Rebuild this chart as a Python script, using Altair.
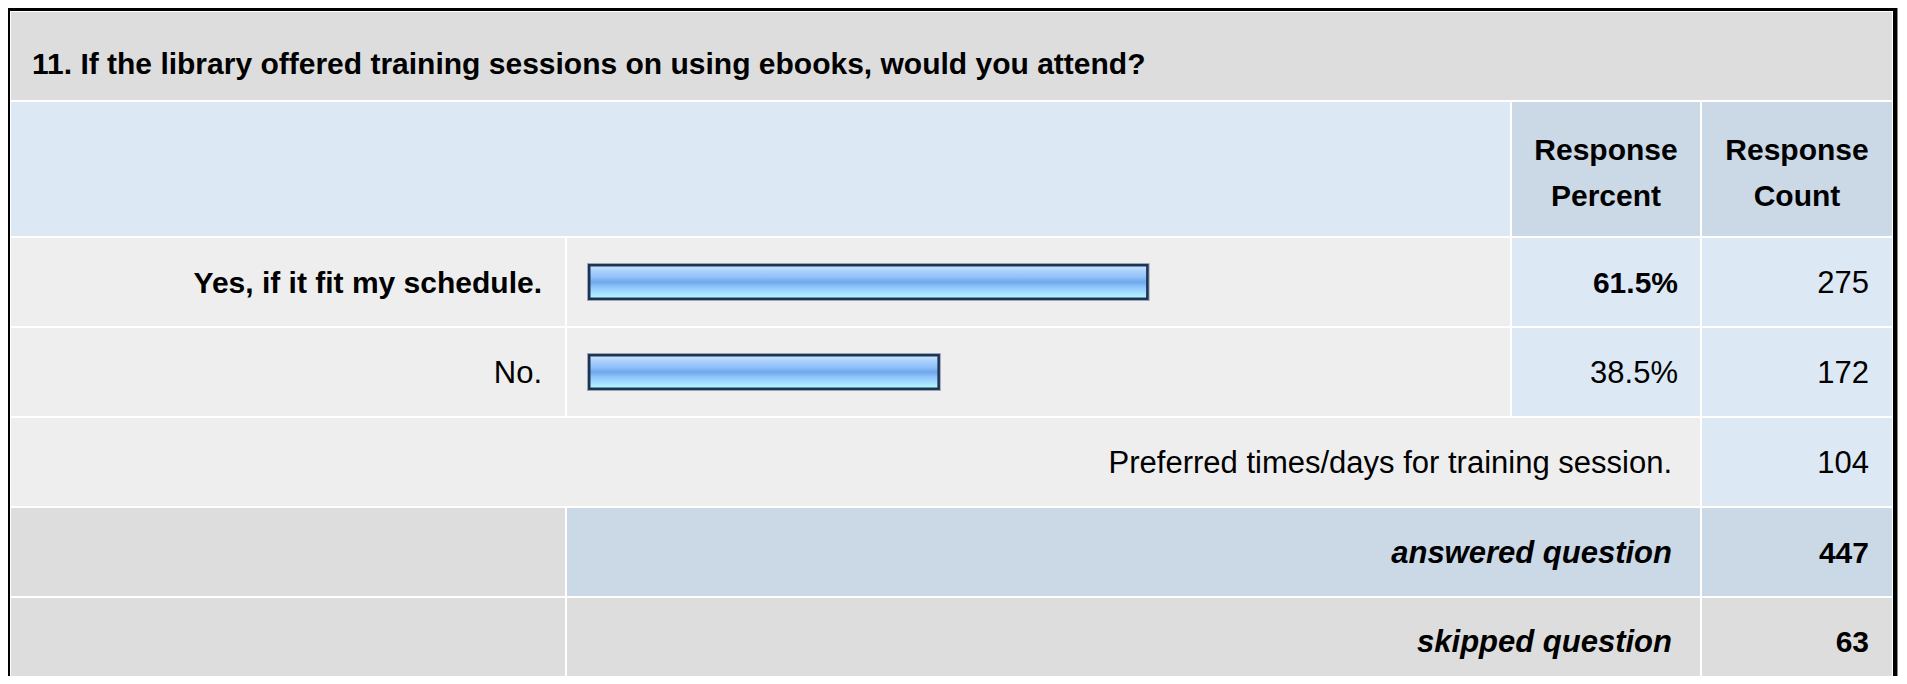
import altair as alt
import pandas as pd

# ---------------- data ----------------
question = "11. If the library offered training sessions on using ebooks, would you attend?"
header_percent = ["Response", "Percent"]
header_count = ["Response", "Count"]
answers = ["Yes, if it fit my schedule.", "No."]
percents = [61.5, 38.5]
counts = [275, 172]
other_label = "Preferred times/days for training session."
other_count = 104
summary_labels = ["answered question", "skipped question"]
summary_counts = [447, 63]

# ---------------- layout (chart pixel coordinates) ----------------
W, H = 1891, 668
COL = {"label": (3, 557), "bar": (559, 1502), "pct": (1504, 1692), "cnt": (1694, 1884)}
ROW = {"title": (4, 92), "head": (94, 228), "a0": (230, 318), "a1": (320, 408),
       "other": (410, 498), "ans": (500, 588), "skip": (590, 668)}
GRAY_LIGHT = "#eeeeee"
GRAY = "#dddddd"
BLUE_LIGHT = "#dde8f5"
BLUE = "#cbd8e6"
FONT = "Liberation Sans"
BAR_RANGE = [581.25, 1488.75]
BAR_HALF = 16.75
TEXT_DY = 11
TITLE_BASE = 66
PAD_R_LABEL = 23
PAD_R_NUM = 22
PAD_R_MERGED = 28


def cell(x0, x1, r, fill):
    y0, y1 = ROW[r]
    return {"x": x0, "x2": x1, "y": y0, "y2": y1, "fill": fill}


def mid(r):
    return (ROW[r][0] + ROW[r][1]) / 2


cells = [
    {"x": 0, "x2": 1890, "y": 0, "y2": H, "fill": "#8a8a8a"},
    {"x": 0, "x2": 1889, "y": 0, "y2": H, "fill": "#000000"},
    {"x": 2, "x2": 1885, "y": 3, "y2": H, "fill": "#ffffff"},
    cell(COL["label"][0], COL["cnt"][1], "title", GRAY),
    cell(COL["label"][0], COL["bar"][1], "head", BLUE_LIGHT),
    cell(*COL["pct"], "head", BLUE),
    cell(*COL["cnt"], "head", BLUE),
]
for r in ["a0", "a1"]:
    cells += [cell(*COL["label"], r, GRAY_LIGHT), cell(*COL["bar"], r, GRAY_LIGHT),
              cell(*COL["pct"], r, BLUE_LIGHT), cell(*COL["cnt"], r, BLUE_LIGHT)]
cells += [cell(COL["label"][0], COL["pct"][1], "other", GRAY_LIGHT),
          cell(*COL["cnt"], "other", BLUE_LIGHT),
          cell(*COL["label"], "ans", GRAY), cell(COL["bar"][0], COL["pct"][1], "ans", BLUE),
          cell(*COL["cnt"], "ans", BLUE),
          cell(*COL["label"], "skip", GRAY), cell(COL["bar"][0], COL["pct"][1], "skip", GRAY),
          cell(*COL["cnt"], "skip", GRAY)]
cells_df = pd.DataFrame(cells)

px = alt.Scale(domain=[0, W], range=[0, W], nice=False, zero=False)
py = alt.Scale(domain=[0, H], range=[0, H], nice=False, zero=False)
bx = alt.Scale(domain=[0, 100], range=BAR_RANGE, nice=False, zero=True)

bg = alt.Chart(cells_df).mark_rect().encode(
    x=alt.X("x:Q", scale=px, axis=None), x2="x2:Q",
    y=alt.Y("y:Q", scale=py, axis=None), y2="y2:Q",
    fill=alt.Fill("fill:N", scale=None),
)

rows_ans = ["a0", "a1"]
bar_df = pd.DataFrame({
    "answer": answers,
    "pct": percents,
    "start": [0, 0],
    "y": [mid(r) - BAR_HALF for r in rows_ans],
    "y2": [mid(r) + BAR_HALF for r in rows_ans],
})
grad = alt.LinearGradient(
    gradient="linear", x1=0, x2=0, y1=0, y2=1,
    stops=[
        alt.GradientStop(color="#d2e8ff", offset=0),
        alt.GradientStop(color="#a8d0fd", offset=0.18),
        alt.GradientStop(color="#90c0f8", offset=0.36),
        alt.GradientStop(color="#70a7ec", offset=0.5),
        alt.GradientStop(color="#8cc3f9", offset=0.64),
        alt.GradientStop(color="#a2dbff", offset=0.8),
        alt.GradientStop(color="#b6ffff", offset=1),
    ],
)
bar_enc = dict(
    x=alt.X("start:Q", scale=bx, axis=None), x2="pct:Q",
    y=alt.Y("y:Q", scale=py, axis=None), y2="y2:Q",
)
halo = alt.Chart(bar_df).mark_rect(fill="transparent", stroke="#9ba7b8", strokeWidth=4.5).encode(**bar_enc)
bars = alt.Chart(bar_df).mark_rect(fill=grad, stroke="#1d3455", strokeWidth=2.5).encode(**bar_enc)

# ---------------- texts ----------------
texts = []


def add(text, x, y, align, weight="normal", style="normal", size=30):
    texts.append({"text": text, "x": x, "y": y, "align": align,
                  "weight": weight, "style": style, "size": size})


add(question, 24, TITLE_BASE, "left", "bold")
cx_p = sum(COL["pct"]) / 2
cx_c = sum(COL["cnt"]) / 2
add(header_percent[0], cx_p, 152, "center", "bold")
add(header_percent[1], cx_p, 198, "center", "bold")
add(header_count[0], cx_c, 152, "center", "bold")
add(header_count[1], cx_c, 198, "center", "bold")
top = max(percents)
for a, p, c, r in zip(answers, percents, counts, rows_ans):
    w = "bold" if p == top else "normal"
    s = 30 if w == "bold" else 31
    add(a, COL["label"][1] - PAD_R_LABEL, mid(r) + TEXT_DY, "right", w, size=s)
    add(f"{p:.1f}%", COL["pct"][1] - PAD_R_NUM, mid(r) + TEXT_DY, "right", w, size=s)
    add(str(c), COL["cnt"][1] - PAD_R_LABEL, mid(r) + TEXT_DY, "right", size=31)
add(other_label, COL["pct"][1] - PAD_R_MERGED, mid("other") + TEXT_DY, "right", size=31)
add(str(other_count), COL["cnt"][1] - PAD_R_LABEL, mid("other") + TEXT_DY, "right", size=31)
skip_mid = 633
for lab, c, ym in zip(summary_labels, summary_counts, [mid("ans"), skip_mid]):
    add(lab, COL["pct"][1] - PAD_R_MERGED, ym + TEXT_DY, "right", "bold", "italic", 31)
    add(str(c), COL["cnt"][1] - PAD_R_LABEL, ym + TEXT_DY, "right", "bold", size=30)

tdf = pd.DataFrame(texts)
text_layers = []
for (al, wt, st, sz), g in tdf.groupby(["align", "weight", "style", "size"]):
    text_layers.append(
        alt.Chart(g[["text", "x", "y"]]).mark_text(
            align=al, baseline="alphabetic", font=FONT, fontSize=float(sz),
            fontWeight=wt, fontStyle=st, color="#000000",
        ).encode(
            x=alt.X("x:Q", scale=px, axis=None),
            y=alt.Y("y:Q", scale=py, axis=None),
            text="text:N",
        )
    )

chart = alt.layer(bg, halo, bars, *text_layers).resolve_scale(x="independent").properties(
    width=W, height=H, padding=0, autosize=alt.AutoSizeParams(type="none"),
    background="white",
).configure_view(stroke=None)

chart.save("out.html", embed_options={"renderer": "svg", "actions": False})
